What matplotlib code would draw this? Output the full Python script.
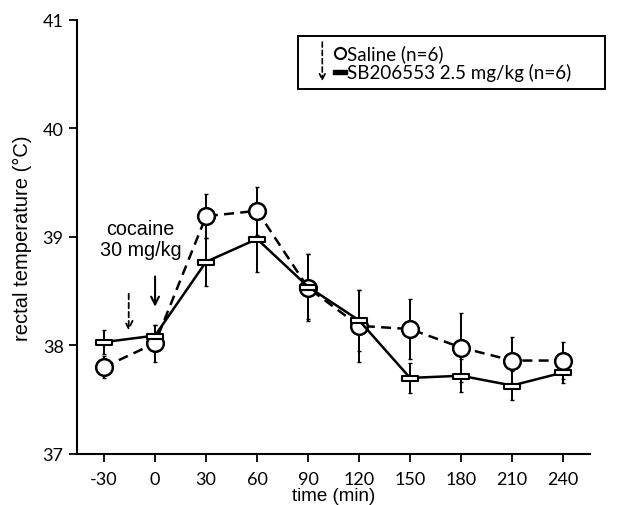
import numpy as np
import matplotlib
matplotlib.use('Agg')
import matplotlib.pyplot as plt
from matplotlib.path import Path
from matplotlib.patches import Rectangle

time = [-30, 0, 30, 60, 90, 120, 150, 180, 210, 240]
saline = [37.80, 38.02, 39.19, 39.24, 38.53, 38.18, 38.15, 37.98, 37.86, 37.86]
saline_err = [0.10, 0.17, 0.20, 0.22, 0.31, 0.33, 0.28, 0.32, 0.22, 0.17]
sb = [38.03, 38.09, 38.77, 38.98, 38.54, 38.23, 37.70, 37.72, 37.63, 37.75]
sb_err = [0.11, 0.10, 0.22, 0.30, 0.30, 0.28, 0.14, 0.15, 0.13, 0.10]

plt.rcParams['font.family'] = ['Liberation Sans', 'DejaVu Sans']
plt.rcParams['axes.unicode_minus'] = False

# flat rectangle marker for the SB group
rect = Path([(-1, -0.3), (1, -0.3), (1, 0.3), (-1, 0.3), (-1, -0.3)],
            [Path.MOVETO, Path.LINETO, Path.LINETO, Path.LINETO, Path.CLOSEPOLY])

fig = plt.figure(figsize=(6.3, 5.06), dpi=100)
ax = fig.add_axes([0.122, 0.101, 0.815, 0.858])

ax.errorbar(time, saline, yerr=saline_err, fmt='none', ecolor='black', elinewidth=1.4, capsize=1.5, zorder=2)
ax.errorbar(time, sb, yerr=sb_err, fmt='none', ecolor='black', elinewidth=1.4, capsize=1.5, zorder=2)
ax.plot(time, saline, color='black', ls=(0, (4, 2.5)), lw=1.8, marker='o', ms=12,
        mfc='white', mec='black', mew=1.8, zorder=3)
ax.plot(time, sb, color='black', ls='-', lw=1.8, marker=rect, ms=12,
        mfc='white', mec='black', mew=1.5, zorder=4)

ax.set_xlim(-46, 256)
ax.set_ylim(37, 41)
ax.set_xticks(time)
ax.set_yticks([37, 38, 39, 40, 41])
ax.tick_params(axis='both', direction='out', length=6, width=1.3, labelsize=13)
ax.tick_params(axis='x', pad=6)
for lab in ax.get_xticklabels() + ax.get_yticklabels():
    lab.set_family(['Lato', 'DejaVu Sans'])
ax.spines['top'].set_visible(False)
ax.spines['right'].set_visible(False)
ax.spines['left'].set_linewidth(1.5)
ax.spines['bottom'].set_linewidth(1.5)
ax.set_xlabel('time (min)', fontsize=13.5, labelpad=0)
ax.set_ylabel('rectal temperature (\u00b0C)', fontsize=14.5, labelpad=8)

# injection arrows
ax.annotate('', xy=(-15.5, 38.11), xytext=(-15.5, 38.50),
            arrowprops=dict(arrowstyle='->', color='black', lw=1.3, ls=(0, (3, 2)), mutation_scale=14))
ax.annotate('', xy=(0, 38.33), xytext=(0, 38.66),
            arrowprops=dict(arrowstyle='->', color='black', lw=1.5, mutation_scale=14))
ax.text(-8.5, 38.98, 'cocaine\n30 mg/kg', ha='center', va='center', fontsize=14.2, linespacing=1.15)

# legend box
ax.add_patch(Rectangle((0.431, 0.841), 0.598, 0.122, transform=ax.transAxes,
                       fill=False, ec='black', lw=1.4, clip_on=False, zorder=5))
ax.annotate('', xy=(0.478, 0.852), xytext=(0.478, 0.955), xycoords='axes fraction',
            arrowprops=dict(arrowstyle='->', color='black', lw=1.2, ls=(0, (3, 2)), mutation_scale=10))
ax.plot([0.513], [0.924], transform=ax.transAxes, marker='o', ms=8, mfc='white', mec='black',
        mew=1.5, clip_on=False, zorder=6)
ax.plot([0.513], [0.880], transform=ax.transAxes, marker=rect, ms=10, mfc='black', mec='black',
        mew=1.0, clip_on=False, zorder=6)
ax.text(0.526, 0.924, 'Saline (n=6)', transform=ax.transAxes, fontsize=13.5, va='center',
        family=['Lato', 'DejaVu Sans'])
ax.text(0.526, 0.880, 'SB206553 2.5 mg/kg (n=6)', transform=ax.transAxes, fontsize=13.5, va='center',
        family=['Lato', 'DejaVu Sans'])

fig.savefig('out.png', dpi=100)
